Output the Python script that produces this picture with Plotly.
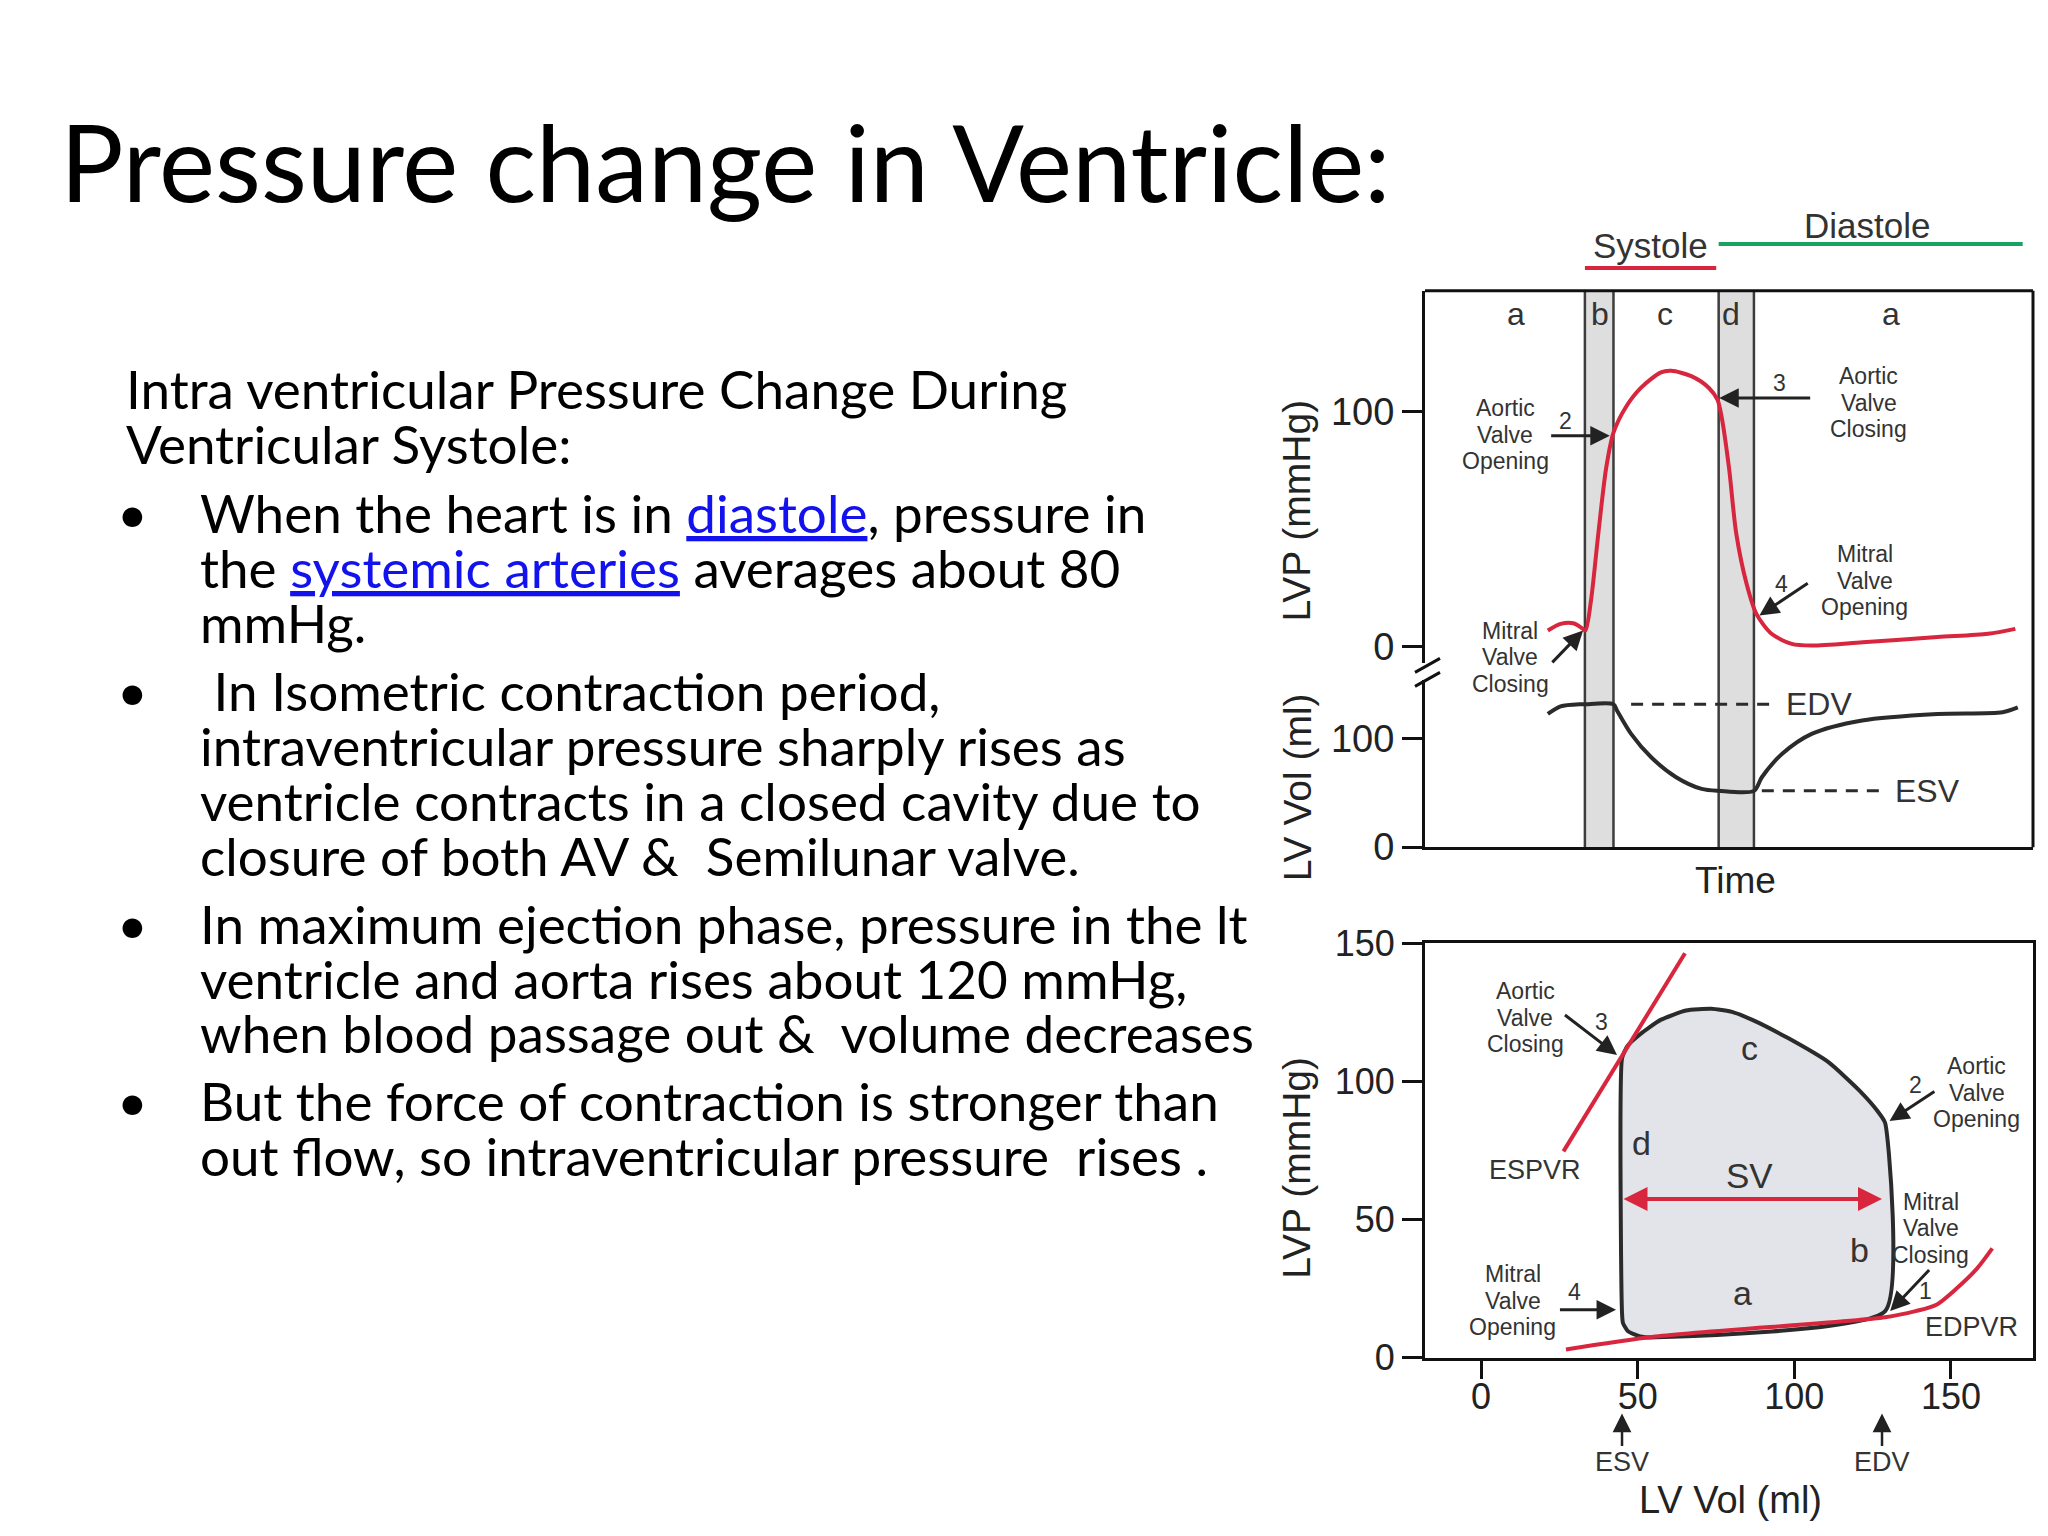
import plotly.graph_objects as go

# ---------------- data ----------------
# top panel: time course (time in % of the cycle window)
t_pressure = [20.2, 22.3, 24.4, 26.0, 26.4, 27.3, 28.5, 29.8, 31.0, 33.0, 35.5, 38.8, 40.5, 43.8,
              46.7, 48.1, 48.8, 50.0, 51.2, 52.9, 54.5, 57.0, 60.3, 63.6, 72.0, 84.3, 92.6, 97.1]
lv_pressure = [6.8, 9.6, 9.9, 7.5, 6.8, 19.5, 47.9, 76.0, 91.0, 101.7, 110.0, 116.6, 117.3, 115.0,
               110.0, 105.0, 97.5, 76.0, 47.9, 26.6, 13.9, 5.4, 1.1, 0.4, 1.8, 4.0, 5.4, 7.5]
t_volume = [20.2, 22.3, 25.6, 26.3, 31.0, 31.6, 33.9, 37.2, 41.3, 45.5, 48.3, 54.1, 55.4, 58.7,
            63.6, 71.9, 84.3, 95.0, 97.5]
lv_volume = [123, 130, 132, 132, 132, 126, 104.6, 83, 64.6, 53.8, 52, 52, 64.6, 86,
             104.6, 117, 123, 124.6, 129]
edv_top, esv_top = 132, 52
edv_dash_t = [33.9, 57.4]
esv_dash_t = [55.4, 75.2]
band_b = [26.3, 31.0]
band_d = [48.3, 54.1]
phase_labels = ["a", "b", "c", "d", "a"]
phase_label_t = [14.9, 28.7, 39.5, 50.4, 76.7]
systole_t = [26.3, 47.9]
diastole_t = [48.3, 98.3]
press_ticks_top = [0, 100]
vol_ticks_top = [0, 100]

# bottom panel: pressure-volume loop
loop_vol = [129.0, 129.0, 126.5, 120.8, 111.0, 98.0, 86.6, 80.1, 73.5, 65.4, 57.3, 50.8, 46.7, 45.0,
            45.0, 45.3, 46.9, 50.8, 55.7, 129.0]
loop_press = [16.8, 84.9, 89.3, 96.6, 106.8, 115.6, 122.2, 125.1, 126.2, 125.6, 122.2, 117, 112.7,
              108.3, 16.1, 12.5, 9.5, 7.6, 7.3, 16.8]
espvr_vol = [26.3, 65.1]
espvr_press = [74.6, 146.3]
edpvr_vol = [27.1, 55.7, 129.0, 138.7, 145.2, 151.7, 158.3, 163.2]
edpvr_press = [2.9, 7.6, 14.6, 16.8, 19.0, 24.9, 32.2, 39.5]
esv_loop, edv_loop, sv_press = 45, 128, 57.4
pv_xticks = [0, 50, 100, 150]
pv_yticks = [0, 50, 100, 150]

# annotation labels: (lines, x, y, number, num_x, num_y, tail_x, tail_y, head_x, head_y)
top_notes = [
    (["Aortic", "Valve", "Opening"], 13.2, 90.0, "2", 23.1, 96.0, 20.5, 89.7, 30.4, 89.7),
    (["Aortic", "Valve", "Closing"], 73.0, 103.8, "3", 58.3, 112.3, 63.6, 105.7, 48.4, 105.7),
    (["Mitral", "Valve", "Opening"], 72.3, 28.0, "4", 58.7, 26.6, 63.2, 27.3, 55.0, 13.2),
    (["Mitral", "Valve", "Closing"], 14.0, -4.5, "1", 24.1, -11.6, 20.7, -7.4, 26.0, 6.8),
]
pv_notes = [
    (["Aortic", "Valve", "Closing"], 14.1, 123.0, "3", 38.5, 121.5, 26.3, 124.4, 43.4, 109.5),
    (["Aortic", "Valve", "Opening"], 158.3, 95.9, "2", 138.7, 98.8, 145.2, 96.6, 130.4, 85.6),
    (["Mitral", "Valve", "Closing"], 143.5, 46.8, "1", 142.0, 24.1, 143.5, 32.2, 130.6, 16.8),
    (["Mitral", "Valve", "Opening"], 10.1, 20.5, "4", 29.9, 23.7, 24.7, 17.3, 43.1, 17.3),
]
pv_letters = [("c", 85.8, 112), ("d", 51.1, 77.6), ("b", 120.8, 38.8), ("a", 83.4, 23.4)]

title_text = "Pressure change in Ventricle:"
header_lines = ["Intra ventricular Pressure Change During", "Ventricular Systole:"]
bullets = [
    ["When the heart is in <span style='color:#1212ee;text-decoration:underline'>diastole</span>, pressure in",
     "the <span style='color:#1212ee;text-decoration:underline'>systemic arteries</span> averages about 80",
     "mmHg."],
    ["\u00a0In Isometric contraction period,",
     "intraventricular pressure sharply rises as",
     "ventricle contracts in a closed cavity due to",
     "closure of both AV &amp; \u00a0Semilunar valve."],
    ["In maximum ejection phase, pressure in the lt",
     "ventricle and aorta rises about 120 mmHg,",
     "when blood passage out &amp; \u00a0volume decreases"],
    ["But the force of contraction is stronger than",
     "out flow, so intraventricular pressure \u00a0rises ."],
]

# ---------------- layout helpers ----------------
W, H = 2032, 1535
OX = 8
VY0, VS = 26.8, 0.9745   # vertical placement of the figure in the captured page


def px(x):
    return (x - OX) / W


def py(y):
    return 1 - ((y - VY0) / VS) / H


RED = "#d7263d"
GREEN = "#1aa260"
INK = "#2b2b2b"
TXT = "#333333"
CF = "Liberation Sans, Arial, sans-serif"
SF = "Lato, Noto Sans, sans-serif"

box_x = [px(1425), px(2033)]
press_dom = [py(663), py(290)]
vol_dom = [py(847), py(680)]
pv_dom = [py(1358), py(943)]

fig = go.Figure()

# top panel traces
fig.add_trace(go.Scatter(x=edv_dash_t, y=[edv_top] * 2, xaxis="x", yaxis="y2", mode="lines",
                         line=dict(color=INK, width=3, dash="12px,9px"), hoverinfo="skip"))
fig.add_trace(go.Scatter(x=esv_dash_t, y=[esv_top] * 2, xaxis="x", yaxis="y2", mode="lines",
                         line=dict(color=INK, width=3, dash="12px,9px"), hoverinfo="skip"))
fig.add_trace(go.Scatter(x=t_volume, y=lv_volume, xaxis="x", yaxis="y2", mode="lines",
                         line=dict(color=INK, width=4, shape="spline", smoothing=0.8)))
fig.add_trace(go.Scatter(x=t_pressure, y=lv_pressure, xaxis="x", yaxis="y", mode="lines",
                         line=dict(color=RED, width=4, shape="spline", smoothing=0.8)))

# bottom panel traces
fig.add_trace(go.Scatter(x=loop_vol, y=loop_press, xaxis="x3", yaxis="y3", mode="lines",
                         fill="toself", fillcolor="#e3e4e9",
                         line=dict(color=INK, width=4, shape="spline", smoothing=0.5)))
fig.add_trace(go.Scatter(x=edpvr_vol, y=edpvr_press, xaxis="x3", yaxis="y3", mode="lines",
                         line=dict(color=RED, width=4, shape="spline", smoothing=0.8)))
fig.add_trace(go.Scatter(x=espvr_vol, y=espvr_press, xaxis="x3", yaxis="y3", mode="lines",
                         line=dict(color=RED, width=4)))

shapes = []
y_box0, y_box1 = py(847), py(290)
for b in (band_b, band_d):
    shapes.append(dict(type="rect", xref="x", yref="paper", x0=b[0], x1=b[1], y0=y_box0, y1=y_box1,
                       fillcolor="#dedede", line=dict(width=0), layer="below"))
    for edge in b:
        shapes.append(dict(type="line", xref="x", yref="paper", x0=edge, x1=edge, y0=y_box0, y1=y_box1,
                           line=dict(color="#3c3c3c", width=2.5), layer="below"))
# frame: top & right edges of the top panel
shapes.append(dict(type="line", xref="x domain", yref="paper", x0=0, x1=1, y0=y_box1, y1=y_box1,
                   line=dict(color="#111", width=3)))
shapes.append(dict(type="line", xref="x domain", yref="paper", x0=1, x1=1, y0=y_box0, y1=y_box1,
                   line=dict(color="#111", width=3)))
# axis break marks
for dy in (0, 14):
    shapes.append(dict(type="line", xref="paper", yref="paper", x0=px(1415), x1=px(1440),
                       y0=py(672 + dy), y1=py(658 + dy), line=dict(color="#111", width=3)))
# systole / diastole bars
shapes.append(dict(type="line", xref="x", yref="paper", x0=systole_t[0], x1=systole_t[1],
                   y0=py(267), y1=py(267), line=dict(color=RED, width=4)))
shapes.append(dict(type="line", xref="x", yref="paper", x0=diastole_t[0], x1=diastole_t[1],
                   y0=py(243), y1=py(243), line=dict(color=GREEN, width=4)))

ann = []


def text(s, x, y, xref="paper", yref="paper", size=23, color=TXT, font=CF, xanchor="center",
         yanchor="middle", angle=0, yshift=0):
    ann.append(dict(text=s, x=x, y=y, xref=xref, yref=yref, showarrow=False, xanchor=xanchor,
                    yanchor=yanchor, textangle=angle, yshift=yshift,
                    font=dict(family=font, size=size, color=color)))


def arrow(tx, ty, hx, hy, xr, yr, color="#222", width=3, side="end", size=1.3):
    ann.append(dict(text="", x=hx, y=hy, ax=tx, ay=ty, xref=xr, yref=yr, axref=xr, ayref=yr,
                    showarrow=True, arrowhead=2, arrowsize=size, arrowwidth=width, arrowcolor=color,
                    arrowside=side, standoff=0, startstandoff=0))


def note(item, xr, yr):
    lines, x, y, num, nx, ny, tx, ty, hx, hy = item
    n = len(lines)
    for i, s in enumerate(lines):
        text(s, x, y, xr, yr, size=23, yshift=((n - 1) / 2 - i) * 26.5)
    text(num, nx, ny, xr, yr, size=23)
    arrow(tx, ty, hx, hy, xr, yr)


# slide text
text(title_text, px(58), py(160), size=106, color="#000", font=SF, xanchor="left")
yy = 388
for s in header_lines:
    text(s, px(124), py(yy), size=53, color="#000", font=SF, xanchor="left")
    yy += 55
yy += 14
for para in bullets:
    text("•", px(132), py(yy), size=53, color="#000", font=SF, xanchor="center")
    for s in para:
        text(s, px(198), py(yy), size=53, color="#000", font=SF, xanchor="left")
        yy += 55
    yy += 13

# top panel labels
for lab, t in zip(phase_labels, phase_label_t):
    text(lab, t, py(313), "x", "paper", size=32)
text("Systole", (systole_t[0] + systole_t[1]) / 2, py(245), "x", "paper", size=35)
text("Diastole", 72.7, py(225), "x", "paper", size=35)
text("EDV", 59.0, edv_top, "x", "y2", size=32, xanchor="left")
text("ESV", 76.9, esv_top, "x", "y2", size=32, xanchor="left")
text("Time", 51.0, py(880), "x", "paper", size=37, color="#222")
text("LVP (mmHg)", px(1297), py(510), size=39, color="#222", angle=-90)
text("LV Vol (ml)", px(1297), py(787), size=39, color="#222", angle=-90)
for item in top_notes:
    note(item, "x", "y")

# bottom panel labels
for item in pv_notes:
    note(item, "x3", "y3")
for lab, v, p in pv_letters:
    text(lab, v, p, "x3", "y3", size=34)
text("SV", 85.8, 65.9, "x3", "y3", size=35)
text("ESPVR", 17.3, 68, "x3", "y3", size=27)
text("EDPVR", 156.6, 11, "x3", "y3", size=27)
arrow(esv_loop, sv_press, edv_loop, sv_press, "x3", "y3", color=RED, width=4, side="end+start", size=1.2)
for lab, v in (("ESV", esv_loop), ("EDV", edv_loop)):
    ann.append(dict(text="", x=v, y=py(1414), xref="x3", yref="paper", ax=0, ay=34,
                    axref="pixel", ayref="pixel", showarrow=True, arrowhead=2, arrowsize=1.5,
                    arrowwidth=2.5, arrowcolor="#222", standoff=0))
    text(lab, v, py(1463), "x3", "paper", size=27)
text("LV Vol (ml)", px(1730), py(1501), size=38, color="#222")
text("LVP (mmHg)", px(1297), py(1168), size=39, color="#222", angle=-90)

axis_common = dict(showgrid=False, zeroline=False, showline=True, linecolor="#111", linewidth=3,
                   ticks="outside", tickwidth=3, tickcolor="#111", fixedrange=True)

fig.update_layout(
    width=W, height=H, margin=dict(l=0, r=0, t=0, b=0), autosize=False,
    paper_bgcolor="white", plot_bgcolor="rgba(0,0,0,0)", showlegend=False,
    xaxis=dict(domain=box_x, range=[0, 100], anchor="y2", showgrid=False, zeroline=False,
               showline=True, linecolor="#111", linewidth=3, ticks="", showticklabels=False,
               fixedrange=True),
    yaxis=dict(domain=press_dom, range=[-7.2, 151.3], anchor="x", tickvals=press_ticks_top,
               ticklen=20, tickfont=dict(family=CF, size=38, color="#222"), **axis_common),
    yaxis2=dict(domain=vol_dom, range=[0, 154], anchor="x", tickvals=vol_ticks_top,
                ticklen=20, tickfont=dict(family=CF, size=38, color="#222"), **axis_common),
    xaxis3=dict(domain=box_x, range=[-17.9, 176.2], anchor="y3", tickvals=pv_xticks, mirror=True,
                ticklen=18, ticklabelstandoff=-13, tickfont=dict(family=CF, size=36, color="#222"),
                **axis_common),
    yaxis3=dict(domain=pv_dom, range=[0, 150], anchor="x3", tickvals=pv_yticks, mirror=True,
                ticklen=20, tickfont=dict(family=CF, size=36, color="#222"), **axis_common),
    shapes=shapes, annotations=ann,
)

fig.write_html("out.html")
